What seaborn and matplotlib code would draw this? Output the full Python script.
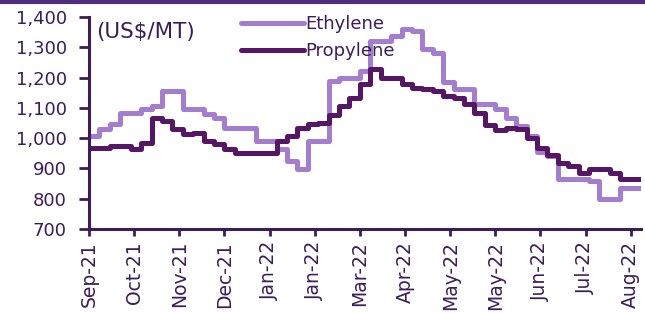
import pandas as pd
import matplotlib.pyplot as plt
import seaborn as sns
import numpy as np

# weekly prices, Sep-21 .. Aug-22 (US$/MT)
ethylene = [1007, 1030, 1046, 1083, 1083, 1096, 1106, 1156, 1156, 1096,
            1096, 1080, 1066, 1033, 1033, 1033, 990, 990, 964, 924,
            897, 990, 990, 1189, 1199, 1199, 1222, 1321, 1321, 1338,
            1361, 1355, 1295, 1280, 1185, 1162, 1162, 1112, 1112, 1096,
            1066, 1040, 1007, 955, 940, 864, 864, 864, 858, 798,
            798, 834, 834, 834]
propylene = [967, 967, 973, 973, 964, 983, 1066, 1056, 1030, 1013,
             1017, 990, 980, 964, 950, 950, 950, 950, 990, 1007,
             1033, 1046, 1050, 1075, 1106, 1132, 1180, 1228, 1199, 1199,
             1180, 1166, 1162, 1156, 1139, 1132, 1112, 1083, 1045, 1028,
             1033, 1030, 1000, 967, 945, 917, 907, 884, 897, 897,
             884, 864, 864, 864]
tick_labels = ['Sep-21', 'Oct-21', 'Nov-21', 'Dec-21', 'Jan-22', 'Jan-22', 'Mar-22',
               'Apr-22', 'May-22', 'May-22', 'Jun-22', 'Jul-22', 'Aug-22']

weeks = list(range(len(ethylene)))
df = pd.DataFrame({
    'week': weeks + weeks,
    'price': ethylene + propylene,
    'product': ['Ethylene'] * len(weeks) + ['Propylene'] * len(weeks),
})

sns.set_style('white')
plt.rcParams['font.family'] = ['DejaVu Sans']
dark = '#3b1d5a'

fig = plt.figure(figsize=(6.45, 3.13), dpi=100)
ax = fig.add_axes([0.138, 0.268, 0.856, 0.678])

sns.lineplot(data=df, x='week', y='price', hue='product',
             palette={'Ethylene': '#a57dd0', 'Propylene': '#571566'},
             drawstyle='steps-post', linewidth=3.6, ax=ax,
             solid_joinstyle='round', solid_capstyle='round')

ax.set_xlim(0, 53)
ax.set_ylim(700, 1400)
ax.set_yticks(range(700, 1401, 100))
ax.set_yticklabels([f'{v:,}' for v in range(700, 1401, 100)])
ax.set_xticks(np.arange(13) * 52 / 12)
ax.set_xticklabels(tick_labels, rotation=90)
ax.set_xlabel('')
ax.set_ylabel('')

for side in ['top', 'right']:
    ax.spines[side].set_visible(False)
for side in ['left', 'bottom']:
    ax.spines[side].set_color(dark)
    ax.spines[side].set_linewidth(2.2)
ax.tick_params(axis='y', labelsize=13, colors=dark, length=7, width=2,
               direction='out', left=True, pad=9)
ax.tick_params(axis='x', labelsize=13.5, colors=dark, length=5, width=2,
               direction='out', bottom=True)

ax.text(0.012, 0.975, '(US$/MT)', transform=ax.transAxes, fontsize=15.5,
        color=dark, va='top', ha='left')

handles, labels = ax.get_legend_handles_labels()
ax.legend(handles, labels, loc='upper left', bbox_to_anchor=(0.362, 0.975),
          bbox_transform=fig.transFigure, frameon=False, fontsize=13,
          handlelength=3.5, handletextpad=0.1, labelspacing=0.5,
          labelcolor=dark, borderaxespad=0)

# purple rule across the top
fig.add_artist(plt.Line2D([0, 1], [0.995, 0.995], transform=fig.transFigure,
                          color='#4f2d7f', linewidth=3))

fig.savefig('out.png', dpi=100)
